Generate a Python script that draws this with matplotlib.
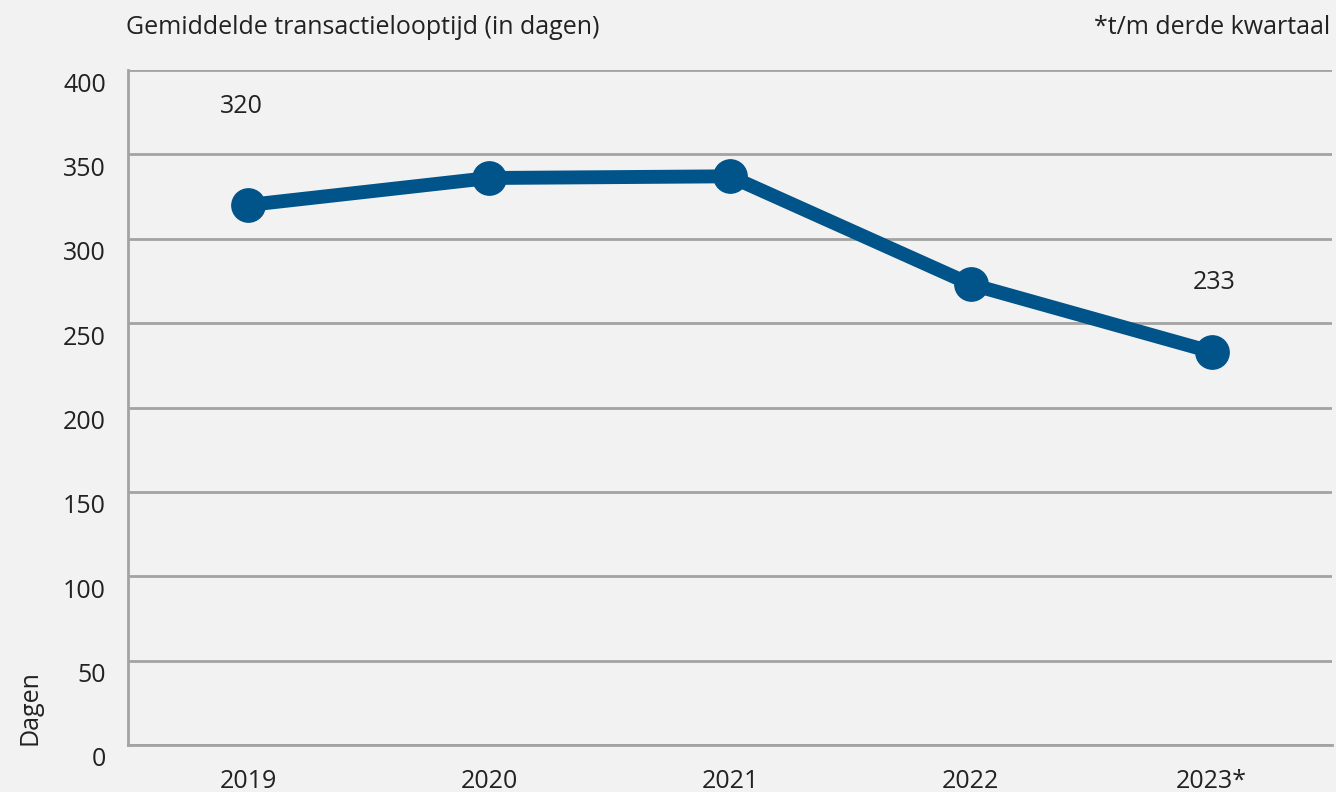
import matplotlib
matplotlib.use("Agg")
import matplotlib.pyplot as plt
import matplotlib.transforms as mtransforms

plt.rcParams['font.family'] = ['Open Sans', 'DejaVu Sans']

years = ["2019", "2020", "2021", "2022", "2023*"]
days = [320, 336, 337, 273, 233]
yticks = [0, 50, 100, 150, 200, 250, 300, 350, 400]
labelled = {0: "320", 4: "233"}

bg = "#f2f2f2"
line_c = "#00548a"
grid_c = "#a3a3a3"
text_c = "#222222"
fs = 18

fig = plt.figure(figsize=(13.36, 7.92), dpi=100, facecolor=bg)
ax = fig.add_axes([128/1336, 47/792, 1204/1336, 675/792])
ax.set_facecolor(bg)

x = list(range(len(years)))
ax.plot(x, days, color=line_c, lw=10, marker="o", markersize=24, zorder=3,
        solid_capstyle="round")

ax.set_xlim(-0.5, len(years) - 0.5)
ax.set_ylim(0, 400)
ax.set_yticks(yticks)
ax.set_yticklabels([str(t) for t in yticks], fontsize=fs, color=text_c)
ax.yaxis.grid(True, color=grid_c, lw=2)
ax.set_axisbelow(True)
ax.tick_params(axis="y", length=0, pad=16)
ax.tick_params(axis="x", length=0, pad=17)
ax.set_xticks(x)
ax.set_xticklabels(years, fontsize=fs, color=text_c)
offset = mtransforms.ScaledTranslation(0, -12/100, fig.dpi_scale_trans)
for lab in ax.get_yticklabels():
    lab.set_transform(lab.get_transform() + offset)

for s in ["top", "right"]:
    ax.spines[s].set_visible(False)
for s in ["left", "bottom"]:
    ax.spines[s].set_color(grid_c)
    ax.spines[s].set_linewidth(2)

# data labels
ax.annotate(labelled[0], (0, 400), xytext=(-5, -26), textcoords="offset points",
            ha="center", va="center", fontsize=fs, color=text_c)
ax.annotate(labelled[4], (4, days[4]), xytext=(2, 50), textcoords="offset points",
            ha="center", va="center", fontsize=fs, color=text_c)

fig.text(126/1336, 1 - 28/792, "Gemiddelde transactielooptijd (in dagen)",
         fontsize=fs, color=text_c, ha="left", va="center")
fig.text(1330/1336, 1 - 28/792, "*t/m derde kwartaal",
         fontsize=fs, color=text_c, ha="right", va="center")
fig.text(30/1336, 47/792, "Dagen", rotation=90, fontsize=fs, color=text_c,
         ha="center", va="bottom")

fig.savefig("out.png", dpi=100, facecolor=bg)
